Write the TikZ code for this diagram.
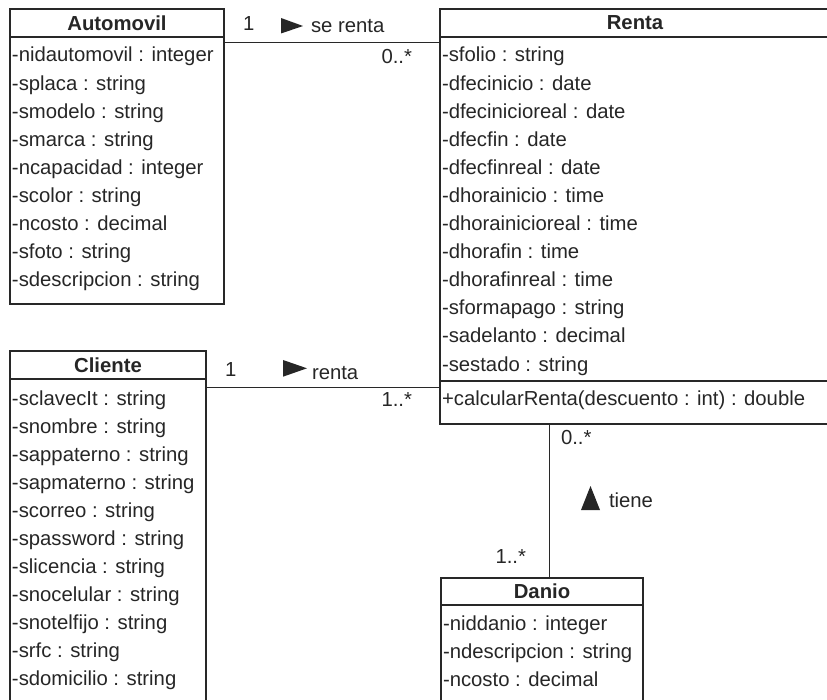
\documentclass[tikz,border=0pt]{standalone}
\usepackage{fontspec}
\setmainfont{Liberation Sans}
\begin{document}
\begin{tikzpicture}[x=1pt,y=-1pt,
  every node/.style={inner sep=0pt, outer sep=0pt, text=ink, font=\fontsize{20.3}{24}\selectfont},
  umlbox/.style={draw=frame, line width=2pt, rectangle, anchor=north west},
  attr/.style={anchor=base west},
  title/.style={anchor=base, font=\fontsize{20.3}{24}\selectfont\bfseries},
  mult/.style={anchor=base west},
  assoc/.style={draw=frame, line width=1.6pt},
  marker/.style={fill=ink, draw=none}]
\definecolor{ink}{RGB}{38,38,38}
\definecolor{frame}{RGB}{40,40,40}
\useasboundingbox (0,0) rectangle (827,700);
\clip (0,0) rectangle (827,700);

% ---------- Automovil ----------
\node[umlbox, minimum width=214pt, minimum height=294.5pt] (auto) at (10,9.5) {};
\draw[frame, line width=1.8pt] (auto.west |- 0,37) -- (auto.east |- 0,37);
\node[title] (autot) at (117,30.7) {Automovil};
\foreach \t [count=\i from 0] in {-nidautomovil : integer,-splaca : string,-smodelo : string,-smarca : string,-ncapacidad : integer,-scolor : string,-ncosto : decimal,-sfoto : string,-sdescripcion : string}
  \node[attr] (auto-\i) at (12,62+28.1*\i) {\t};

% ---------- Renta ----------
\node[umlbox, minimum width=390pt, minimum height=414.5pt] (renta) at (440,9.5) {};
\draw[frame, line width=1.8pt] (renta.west |- 0,37) -- (renta.east |- 0,37);
\draw[frame, line width=1.8pt] (renta.west |- 0,381) -- (renta.east |- 0,381);
\node[title] (rentat) at (635,30) {Renta};
\foreach \t [count=\i from 0] in {-sfolio : string,-dfecinicio : date,-dfecinicioreal : date,-dfecfin : date,-dfecfinreal : date,-dhorainicio : time,-dhorainicioreal : time,-dhorafin : time,-dhorafinreal : time,-sformapago : string,-sadelanto : decimal,-sestado : string}
  \node[attr] (renta-\i) at (442,62+28.1*\i) {\t};
\node[attr] (rentaop) at (442,406) {+calcularRenta(descuento : int) : double};

% ---------- Cliente ----------
\node[umlbox, minimum width=196pt, minimum height=380pt] (cliente) at (10,351) {};
\draw[frame, line width=1.8pt] (cliente.west |- 0,379) -- (cliente.east |- 0,379);
\node[title] (clientet) at (108,372.3) {Cliente};
\foreach \t [count=\i from 0] in {-sclavecIt : string,-snombre : string,-sappaterno : string,-sapmaterno : string,-scorreo : string,-spassword : string,-slicencia : string,-snocelular : string,-snotelfijo : string,-srfc : string,-sdomicilio : string}
  \node[attr] (cliente-\i) at (12,405+28*\i) {\t};

% ---------- Danio ----------
\node[umlbox, minimum width=202pt, minimum height=160pt] (danio) at (441,578) {};
\draw[frame, line width=1.8pt] (danio.west |- 0,605) -- (danio.east |- 0,605);
\node[title] (daniot) at (542,598) {Danio};
\foreach \t [count=\i from 0] in {-niddanio : integer,-ndescripcion : string,-ncosto : decimal}
  \node[attr] (danio-\i) at (443,630.7+27.7*\i) {\t};

% ---------- Automovil -- Renta : se renta ----------
\draw[assoc] (auto.east |- 0,42.5) -- (renta.west |- 0,42.5);
\node[mult] (m1a) at (243,31) {1};
\fill[marker] (281,18) -- (303,26) -- (281,33.5) -- cycle;
\node[attr] (l1) at (311,33) {se renta};
\node[anchor=base east] (m1b) at (412,64) {0..*};

% ---------- Cliente -- Renta : renta ----------
\draw[assoc] (cliente.east |- 0,387.3) -- (renta.west |- 0,387.3);
\node[mult] (m2a) at (225,376.7) {1};
\fill[marker] (283,360) -- (307,368.3) -- (283,376.7) -- cycle;
\node[attr] (l2) at (312,379) {renta};
\node[anchor=base east] (m2b) at (412,406.7) {1..*};

% ---------- Renta -- Danio : tiene ----------
\draw[assoc] (renta.south -| 549.3,0) -- (danio.north -| 549.3,0);
\node[mult] (m3a) at (561,444) {0..*};
\fill[marker] (581,510) -- (590.5,486) -- (600,510) -- cycle;
\node[attr] (l3) at (609,507.7) {tiene};
\node[anchor=base east] (m3b) at (526,563) {1..*};
\end{tikzpicture}
\end{document}
